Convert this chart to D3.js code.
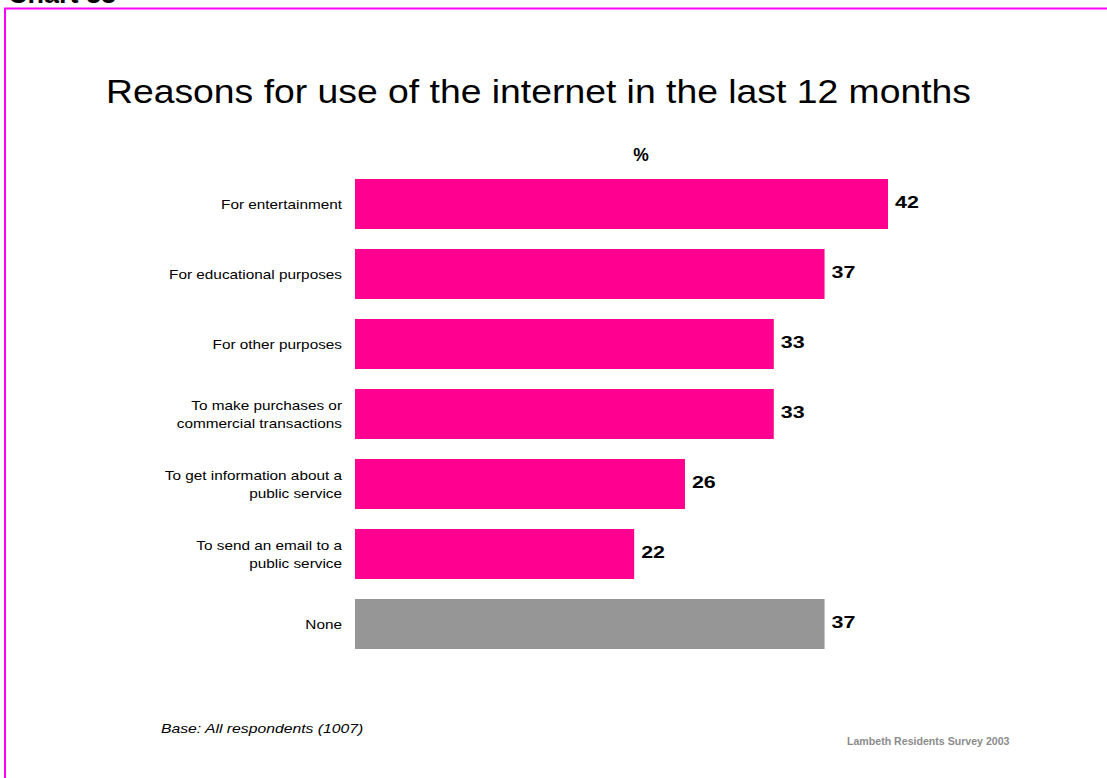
<!DOCTYPE html>
<html>
<head>
<meta charset="utf-8">
<script src="https://cdn.jsdelivr.net/npm/d3@7"></script>
<style>
  html, body { margin: 0; padding: 0; background: #fff; }
  svg { display: block; font-family: "Liberation Sans", Arial, sans-serif; }
</style>
</head>
<body>
<svg id="chart" width="1107" height="778"></svg>
<script>
// Survey responses: reasons for internet use (%)
const categories = [
  ["For entertainment"],
  ["For educational purposes"],
  ["For other purposes"],
  ["To make purchases or", "commercial transactions"],
  ["To get information about a", "public service"],
  ["To send an email to a", "public service"],
  ["None"]
];
const values = [42, 37, 33, 33, 26, 22, 37];
const barColors = ["#FF0090", "#FF0090", "#FF0090", "#FF0090", "#FF0090", "#FF0090", "#969696"];

const svg = d3.select("#chart");

// Widen a text horizontally about a fixed x position
function stretch(sel, sx, ax) {
  sel.attr("transform", `translate(${ax},0) scale(${sx},1) translate(${-ax},0)`);
}

// Page frame
svg.append("line").attr("x1", 4).attr("x2", 1107).attr("y1", 8.5).attr("y2", 8.5)
  .attr("stroke", "#FF00FF").attr("stroke-width", 2);
svg.append("line").attr("x1", 5).attr("x2", 5).attr("y1", 8).attr("y2", 778)
  .attr("stroke", "#FF00FF").attr("stroke-width", 2);

// Page heading (clipped at the top edge)
svg.append("text").attr("x", 8).attr("y", 3)
  .attr("font-size", 27).attr("font-weight", "bold").attr("fill", "#000")
  .text("Chart 88");

// Title
stretch(svg.append("text").attr("x", 106).attr("y", 103)
  .attr("font-size", 34).attr("fill", "#000")
  .text("Reasons for use of the internet in the last 12 months"), 1.098, 106);

// Unit label
svg.append("text").attr("x", 641).attr("y", 161)
  .attr("text-anchor", "middle").attr("font-size", 17.5).attr("font-weight", "bold")
  .text("%");

const x = d3.scaleLinear().domain([0, 42]).range([355, 888]);
const y = d3.scaleBand().domain(d3.range(values.length)).range([179 - 10, 649 + 10]).paddingInner(20 / 70).paddingOuter(10 / 70);

// Bars
svg.append("g").selectAll("rect").data(values).join("rect")
  .attr("x", x(0))
  .attr("y", (d, i) => y(i))
  .attr("width", d => x(d) - x(0))
  .attr("height", y.bandwidth())
  .attr("fill", (d, i) => barColors[i]);

// Value labels
svg.append("g").selectAll("text").data(values).join("text")
  .attr("x", d => x(d) + 7)
  .attr("y", (d, i) => y(i) + y.bandwidth() / 2 + 3.8)
  .attr("font-size", 16.5).attr("font-weight", "bold").attr("fill", "#000")
  .text(d => d)
  .each(function(d) { stretch(d3.select(this), 1.3, x(d) + 7); });

// Category labels
const lab = svg.append("g").selectAll("text").data(categories).join("text")
  .attr("text-anchor", "end")
  .attr("font-size", 13).attr("fill", "#000");
lab.each(function(lines, i) {
  const t = d3.select(this);
  const cy = y(i) + y.bandwidth() / 2;
  const lh = 17.5;
  lines.forEach((s, k) => {
    t.append("tspan").attr("x", 342)
      .attr("y", cy + (k - (lines.length - 1) / 2) * lh + 5.2)
      .text(s);
  });
  stretch(t, 1.18, 342);
});

// Footnotes
stretch(svg.append("text").attr("x", 161).attr("y", 733)
  .attr("font-size", 12.5).attr("font-style", "italic").attr("fill", "#000")
  .text("Base: All respondents (1007)"), 1.26, 161);
svg.append("text").attr("x", 847).attr("y", 745)
  .attr("font-size", 10.6).attr("font-weight", "bold").attr("fill", "#8c8c8c")
  .text("Lambeth Residents Survey 2003");
</script>
</body>
</html>
